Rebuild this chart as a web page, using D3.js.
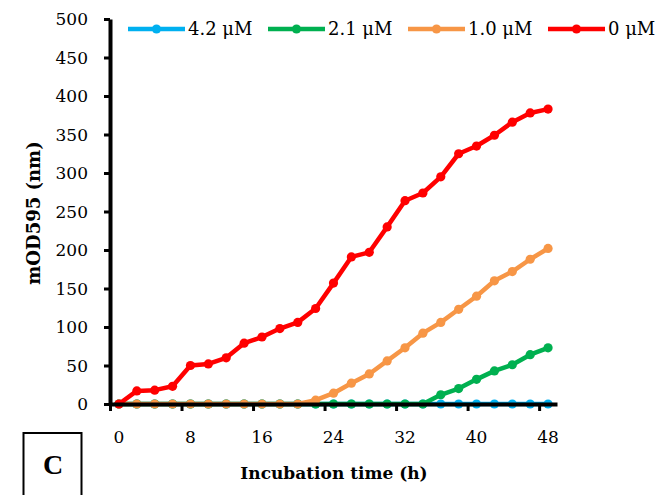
<!DOCTYPE html>
<html>
<head>
<meta charset="utf-8">
<script src="https://cdn.jsdelivr.net/npm/d3@7/dist/d3.min.js"></script>
<style>
  html, body { margin: 0; padding: 0; background: #fff; }
  svg { display: block; }
  text { font-family: "DejaVu Serif", "Liberation Serif", serif; fill: #000; }
</style>
</head>
<body>
<svg id="chart" width="662" height="495"></svg>
<script>
// ---- data ----
const hours = [0,2,4,6,8,10,12,14,16,18,20,22,24,26,28,30,32,34,36,38,40,42,44,46,48];
const seriesNames = ["4.2 \u03bcM", "2.1 \u03bcM", "1.0 \u03bcM", "0 \u03bcM"];
const seriesColors = ["#00B0F0", "#00B050", "#F79646", "#FF0000"];
const conc42 = [0,0,0,0,0,0,0,0,0,0,0,0,0,0,0,0,0,0,0,0,0,0,0,0,0];
const conc21 = [0,0,0,0,0,0,0,0,0,0,0,0,0,0,0,0,0,0,12,20,32,43,51,64,73];
const conc10 = [0,0,0,0,0,0,0,0,0,0,0,5,14,27,39,56,73,92,106,123,140,160,172,188,202];
const conc0  = [0,17,18,23,50,52,60,79,87,98,106,124,157,191,197,230,264,274,295,325,335,349,366,378,383];
const seriesValues = [conc42, conc21, conc10, conc0];
const xTickLabels = [0,8,16,24,32,40,48];
const xTickMarks = [-1,7,15,23,31,39,47];
const yTicks = [0,50,100,150,200,250,300,350,400,450,500];

// ---- layout ----
const svg = d3.select("#chart");
const x = d3.scaleLinear().domain([-1, 49]).range([110, 557]);
const y = d3.scaleLinear().domain([0, 500]).range([404, 19]);

// series lines (first series drawn at bottom)
const line = d3.line().x(d => x(d[0])).y(d => y(d[1]));
seriesValues.forEach((vals, i) => {
  const pts = hours.map((h, k) => [h, vals[k]]);
  const g = svg.append("g");
  g.append("path").datum(pts)
    .attr("d", line).attr("fill", "none")
    .attr("stroke", seriesColors[i]).attr("stroke-width", 4.5)
    .attr("stroke-linejoin", "round");
  g.selectAll("circle").data(pts).enter().append("circle")
    .attr("cx", d => x(d[0])).attr("cy", d => y(d[1])).attr("r", 4.6)
    .attr("fill", seriesColors[i]);
});

// y axis
const yAxis = d3.axisLeft(y).tickValues(yTicks).tickSize(6).tickSizeOuter(0).tickFormat("");
const gy = svg.append("g").attr("transform", "translate(110,0)").call(yAxis);
gy.select(".domain").attr("stroke", "#000").attr("stroke-width", 4);
gy.selectAll(".tick line").attr("stroke", "#000").attr("stroke-width", 3);
svg.append("g").selectAll("text").data(yTicks).enter().append("text")
  .attr("x", 88).attr("y", d => y(d)).attr("dy", "0.36em")
  .attr("text-anchor", "end").attr("font-size", 17).text(d => d);

// x axis
const xAxis = d3.axisBottom(x).tickValues(xTickMarks).tickSize(7).tickSizeOuter(0).tickFormat("");
const gx = svg.append("g").attr("transform", "translate(0,404)").call(xAxis);
gx.select(".domain").attr("stroke", "#000").attr("stroke-width", 4);
gx.selectAll(".tick line").attr("stroke", "#000").attr("stroke-width", 3);
svg.append("g").selectAll("text").data(xTickLabels).enter().append("text")
  .attr("x", d => x(d)).attr("y", 443)
  .attr("text-anchor", "middle").attr("font-size", 17).text(d => d);

// axis titles
svg.append("text").attr("x", 334).attr("y", 479)
  .attr("text-anchor", "middle").attr("font-size", 17).attr("font-weight", "bold")
  .text("Incubation time (h)");
svg.append("text").attr("transform", "translate(40,213) rotate(-90)")
  .attr("text-anchor", "middle").attr("font-size", 18).attr("font-weight", "bold")
  .text("mOD595 (nm)");

// legend
const leg = svg.append("g");
seriesNames.forEach((name, i) => {
  const lx = 128 + i * 140, ly = 29;
  leg.append("line").attr("x1", lx).attr("x2", lx + 57).attr("y1", ly).attr("y2", ly)
    .attr("stroke", seriesColors[i]).attr("stroke-width", 4.5);
  leg.append("circle").attr("cx", lx + 28.5).attr("cy", ly).attr("r", 4.6).attr("fill", seriesColors[i]);
  leg.append("text").attr("x", lx + 60).attr("y", ly).attr("dy", "0.36em")
    .attr("font-size", 18).text(name);
});

// panel label
svg.append("rect").attr("x", 23.5).attr("y", 433).attr("width", 58).attr("height", 80)
  .attr("fill", "none").attr("stroke", "#000").attr("stroke-width", 2);
svg.append("text").attr("x", 53).attr("y", 474).attr("text-anchor", "middle")
  .style("font-family", "'Liberation Serif', serif")
  .attr("font-size", 28).attr("font-weight", "bold").text("C");
</script>
</body>
</html>
